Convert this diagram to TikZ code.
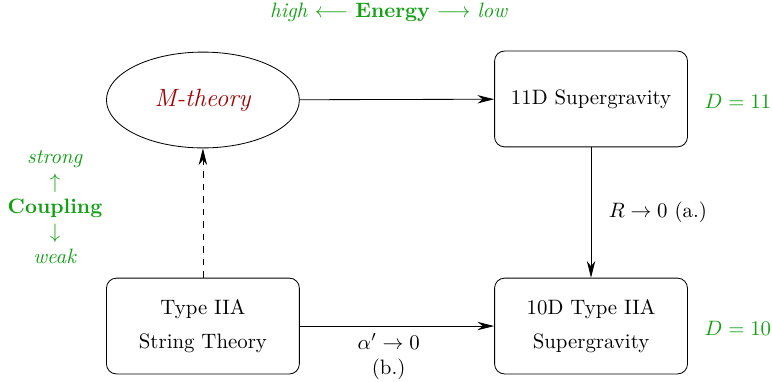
\documentclass[tikz,border=0pt]{standalone}
\usetikzlibrary{arrows.meta,shapes.geometric}
\definecolor{labelgreen}{RGB}{20,160,20}
\definecolor{mred}{RGB}{160,0,0}
\tikzset{
  theorybox/.style={draw, rounded corners=4.8pt, minimum width=92.6pt, minimum height=46pt, align=center},
  mtheory/.style={draw, ellipse, minimum width=92.6pt, minimum height=46pt},
  limitarrow/.style={-{Stealth[length=8pt,width=4pt,inset=2.5pt]}},
  dimlabel/.style={text=labelgreen}
}
\begin{document}
\begin{tikzpicture}[x=1pt,y=1pt]
\useasboundingbox (0,0) rectangle (370.56,-182.88);
\node[dimlabel, inner sep=0.5pt] (energy) at (186.7,-6) {\textit{high} $\longleftarrow$ \textbf{Energy} $\longrightarrow$ \textit{low}};
\node[dimlabel, align=center] (coupling) at (26.4,-99.4) {\textit{strong}\\$\uparrow$\\\textbf{Coupling}\\$\downarrow$\\\textit{weak}};
\node[mtheory] (M) at (97.4,-48) {\large\textcolor{mred}{\textit{M-theory}}};
\node[theorybox] (sugra11) at (283.7,-47.5) {11D Supergravity};
\node[theorybox] (sugra10) at (283.7,-156.5) {10D Type IIA\\[4pt]Supergravity};
\node[theorybox] (string) at (97.4,-156.5) {Type IIA\\[4pt]String Theory};
\node[dimlabel] (D11) at (354.2,-48.5) {$D=11$};
\node[dimlabel] (D10) at (354.2,-157.4) {$D=10$};
\draw[limitarrow] (M) -- (sugra11);
\draw[limitarrow] (sugra11) -- node[right=5pt] {$R\to 0$ (a.)} (sugra10);
\draw[limitarrow] (string) -- node[below, align=center, xshift=-4pt] {$\alpha'\to 0$\\(b.)} (sugra10);
\draw[limitarrow, dashed] (string) -- (M);
\end{tikzpicture}
\end{document}
